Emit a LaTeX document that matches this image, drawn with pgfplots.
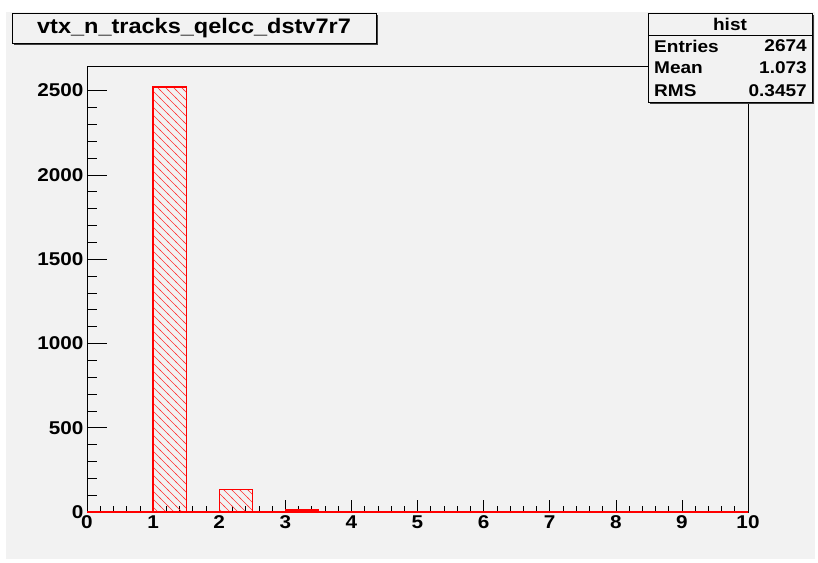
\documentclass[border=0pt]{standalone}
\usepackage{pgfplots}
\pgfplotsset{compat=1.18}
\usetikzlibrary{patterns}
\usepackage{fontspec}
\setmainfont{Liberation Sans}
\newfontfamily\rootfont[FakeStretch=1.12]{Liberation Sans}
\definecolor{panel}{HTML}{F2F2F2}
\pgfdeclarepatterninherentlycolored{roothatch}
  {\pgfqpoint{-1pt}{-1pt}}{\pgfqpoint{9pt}{9pt}}{\pgfqpoint{8pt}{8pt}}
  {\pgfsetcolor{red!80}\pgfsetlinewidth{0.6pt}
   \pgfpathmoveto{\pgfqpoint{-1pt}{9pt}}\pgfpathlineto{\pgfqpoint{9pt}{-1pt}}
   \pgfusepath{stroke}}
\begin{document}
\begin{tikzpicture}[x=1pt,y=1pt]
% canvas (pixel coordinates, y flipped)
\fill[white] (0,0) rectangle (818,562);
\fill[panel] (6,3) rectangle (815,550);
\begin{axis}[
  scale only axis,
  width=661pt, height=446pt,
  at={(87pt,50pt)}, anchor=south west,
  xmin=0, xmax=10, ymin=0, ymax=2646,
  axis background/.style={fill=panel},
  xtick={0,1,...,10}, ytick={0,500,...,2500},
  minor x tick num=4, minor y tick num=4,
  tick align=inside, xtick pos=bottom, ytick pos=left,
  xtick style={black, line width=0.6pt, /pgfplots/major tick length=12pt, /pgfplots/minor tick length=6pt},
  ytick style={black, line width=0.6pt, /pgfplots/major tick length=20pt, /pgfplots/minor tick length=10pt},
  /pgf/number format/assume math mode=true,
  /pgf/number format/1000 sep={},
  ticklabel style={font=\rootfont\fontsize{18.5}{20}\selectfont\bfseries},
  axis line style={black, line width=0.8pt},
  clip=false,
]
\addplot[const plot, red, line width=1.3pt, pattern=roothatch]
coordinates {
(0,0) (0.5,0) (1,2522) (1.5,0) (2,134) (2.5,0) (3,12) (3.5,0) (4,0) (4.5,0)
(5,0) (5.5,0) (6,0) (6.5,0) (7,0) (7.5,0) (8,0) (8.5,0) (9,0) (9.5,0) (10,0)
} \closedcycle;
\end{axis}
% title box
\fill[black!75] (14,517) rectangle (378,547);
\filldraw[fill=panel, draw=black, line width=0.8pt] (12,519) rectangle (376,549);
\node[font=\rootfont\fontsize{21}{24}\selectfont\bfseries] at (194,534) {vtx\_n\_tracks\_qelcc\_dstv7r7};
% stats box
\fill[black!75] (650,458) rectangle (814,547);
\filldraw[fill=panel, draw=black, line width=0.8pt] (648,460) rectangle (812,549);
\draw[black, line width=0.8pt] (648,527) -- (812,527);
\node[font=\rootfont\fontsize{17}{20}\selectfont\bfseries] at (730,538) {hist};
\begin{scope}[every node/.style={font=\rootfont\fontsize{17}{20}\selectfont\bfseries, inner sep=0pt}]
\node[anchor=west] at (654,516) {Entries};
\node[anchor=east] at (807,516) {2674};
\node[anchor=west] at (654,494) {Mean};
\node[anchor=east] at (807,494) {1.073};
\node[anchor=west] at (654,471) {RMS};
\node[anchor=east] at (807,471) {0.3457};
\end{scope}
\end{tikzpicture}
\end{document}
